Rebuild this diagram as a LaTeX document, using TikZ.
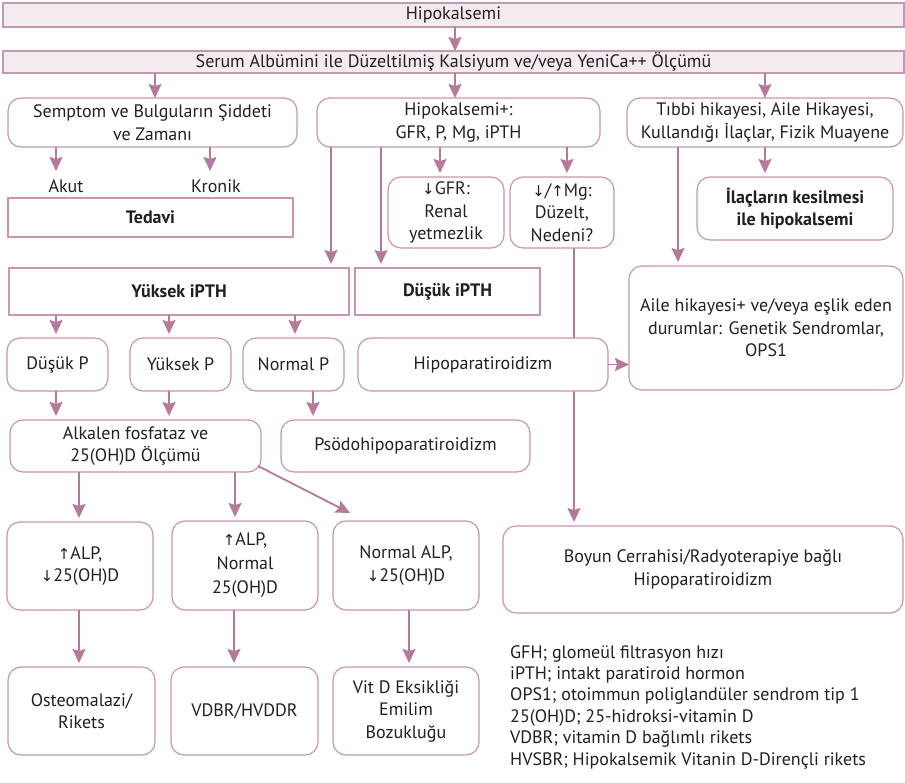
\documentclass[tikz,border=0pt]{standalone}
\usepackage{fontspec}
\setmainfont{PT Sans}
\newfontfamily\symfont{DejaVu Sans}
\usetikzlibrary{arrows.meta,backgrounds}
\definecolor{edgec}{HTML}{C796AF}
\definecolor{arrowc}{HTML}{B47A99}
\definecolor{barfill}{HTML}{F4EBEF}
\definecolor{ink}{HTML}{231F20}
\newcommand\arup{{\symfont\fontsize{15}{15}\selectfont ↑}}
\newcommand\ardn{{\symfont\fontsize{15}{15}\selectfont ↓}}
\newcommand\mainsize{\fontsize{18}{22.5}\selectfont}
\tikzset{
  x=1pt, y=-1pt,
  box/.style={draw=edgec, line width=1.2pt, fill=white, text=ink, align=center,
    inner sep=0pt, outer sep=0pt, font=\mainsize},
  rbox/.style={box, rounded corners=13pt},
  sbox/.style={box},
  boldbox/.style={font=\mainsize\bfseries},
  bar/.style={box, fill=barfill},
  lbl/.style={text=ink, inner sep=0pt, font=\mainsize},
  arr/.style={draw=arrowc, line width=1.8pt, -{Stealth[length=14pt,width=13pt,inset=2pt]}},
  gap/.style={shorten >=4pt},
}
\begin{document}
\begin{tikzpicture}
\useasboundingbox (0,0) rectangle (905,782);

% header bars
\node[bar, minimum width=901pt, minimum height=24pt] (hk) at (453.5,15) {Hipokalsemi};
\node[bar, minimum width=901pt, minimum height=22pt] (ca) at (453.5,62) {Serum Albümini ile Düzeltilmiş Kalsiyum ve/veya YeniCa++ Ölçümü};

% first level
\node[rbox, minimum width=289pt, minimum height=49pt] (semp) at (152.5,122.5) {Semptom ve Bulguların Şiddeti\\ve Zamanı};
\node[rbox, minimum width=283pt, minimum height=49pt] (hplus) at (458.5,122.5) {Hipokalsemi+:\\GFR, P, Mg, iPTH};
\node[rbox, minimum width=276pt, minimum height=49pt] (tibbi) at (765,122.5) {Tıbbi hikayesi, Aile Hikayesi,\\Kullandığı İlaçlar, Fizik Muayene};

\node[lbl] (akut) at (66,186) {Akut};
\node[lbl] (kronik) at (216,186) {Kronik};
\node[sbox, boldbox, minimum width=285pt, minimum height=39pt] (tedavi) at (150.5,217.5) {Tedavi};

\node[rbox, minimum width=116pt, minimum height=71pt] (gfr) at (446,212.5) {\ardn GFR:\\Renal\\yetmezlik};
\node[rbox, minimum width=104pt, minimum height=71pt] (mg) at (562,212.5) {\ardn/\arup Mg:\\Düzelt,\\Nedeni?};
\node[rbox, boldbox, minimum width=196pt, minimum height=63pt] (ilac) at (795,208.5) {İlaçların kesilmesi\\ile hipokalsemi};

% PTH level
\node[sbox, boldbox, minimum width=340pt, minimum height=47pt] (ypth) at (179,291.5) {Yüksek iPTH};
\node[sbox, boldbox, minimum width=185pt, minimum height=47pt] (dpth) at (447.5,291.5) {Düşük iPTH};
\node[rbox, minimum width=274pt, minimum height=124pt] (aile) at (766,328) {Aile hikayesi+ ve/veya eşlik eden\\durumlar: Genetik Sendromlar,\\OPS1};

\node[rbox, minimum width=101pt, minimum height=53pt] (dp) at (57.5,364.5) {Düşük P};
\node[rbox, minimum width=101pt, minimum height=53pt] (yp) at (180.5,364.5) {Yüksek P};
\node[rbox, minimum width=101pt, minimum height=53pt] (np) at (293.5,364.5) {Normal P};
\node[rbox, minimum width=250pt, minimum height=53pt] (hipo) at (483,364.5) {Hipoparatiroidizm};

\node[rbox, minimum width=251pt, minimum height=52pt] (alk) at (135.5,446) {Alkalen fosfataz ve\\25(OH)D Ölçümü};
\node[rbox, minimum width=249pt, minimum height=52pt] (pso) at (405.5,446) {Psödohipoparatiroidizm};

% ALP / vitamin D level
\node[rbox, minimum width=146pt, minimum height=88pt] (a1) at (80,566) {\arup ALP,\\\ardn 25(OH)D};
\node[rbox, minimum width=146pt, minimum height=89pt, font=\fontsize{18}{24}\selectfont] (a2) at (245,565.5) {\arup ALP,\\Normal\\25(OH)D};
\node[rbox, minimum width=146pt, minimum height=89pt] (a3) at (406,565.5) {Normal ALP,\\\ardn 25(OH)D};
\node[rbox, minimum width=400pt, minimum height=87pt] (boyun) at (703,569.5) {Boyun Cerrahisi/Radyoterapiye bağlı\\Hipoparatiroidizm};

\node[rbox, minimum width=147pt, minimum height=88pt] (b1) at (81.5,711) {Osteomalazi/\\Rikets};
\node[rbox, minimum width=147pt, minimum height=88pt] (b2) at (244.5,711) {VDBR/HVDDR};
\node[rbox, minimum width=146pt, minimum height=88pt] (b3) at (406,711) {Vit D Eksikliği\\Emilim\\Bozukluğu};

% abbreviations
\node[lbl, anchor=north west, align=left, font=\fontsize{18}{21.4}\selectfont] (legend) at (510,645) {GFH; glomeül filtrasyon hızı\\
iPTH; intakt paratiroid hormon\\
OPS1; otoimmun poliglandüler sendrom tip 1\\
25(OH)D; 25-hidroksi-vitamin D\\
VDBR; vitamin D bağlımlı rikets\\
HVSBR; Hipokalsemik Vitanin D-Dirençli rikets};

% connectors
\draw[arr] (hk.south -| 455,0) -- (ca.north -| 455,0);
\draw[arr] (ca.south -| 155,0) -- (semp.north -| 155,0);
\draw[arr] (ca.south -| 455,0) -- (hplus.north -| 455,0);
\draw[arr] (ca.south -| 765,0) -- (tibbi.north -| 765,0);

\draw[arr] (semp.south -| 56,0) -- ++(0,24);
\draw[arr] (semp.south -| 210,0) -- ++(0,24);

\draw[arr, gap] (hplus.south -| 331,0) -- (ypth.north -| 331,0);
\draw[arr, gap] (hplus.south -| 381,0) -- (dpth.north -| 381,0);
\draw[arr, gap] (hplus.south -| 440,0) -- (gfr.north -| 440,0);
\draw[arr, gap] (hplus.south -| 567,0) -- (mg.north -| 567,0);

\draw[arr, gap] (tibbi.south -| 678,0) -- (aile.north -| 678,0);
\draw[arr, gap] (tibbi.south -| 765,0) -- (ilac.north -| 765,0);

\begin{scope}[on background layer]
\draw[arr, gap] (mg.south -| 574,0) -- (boyun.north -| 574,0);
\end{scope}
\draw[arr] (hipo.east) -- (aile.west |- hipo.east);

\draw[arr, gap] (ypth.south -| 56,0) -- (dp.north -| 56,0);
\draw[arr, gap] (ypth.south -| 169,0) -- (yp.north -| 169,0);
\draw[arr, gap] (ypth.south -| 295,0) -- (np.north -| 295,0);

\draw[arr, gap] (dp.south -| 56,0) -- (alk.north -| 56,0);
\draw[arr, gap] (yp.south -| 169,0) -- (alk.north -| 169,0);
\draw[arr, gap] (np.south -| 313,0) -- (pso.north -| 313,0);

\draw[arr, gap] (alk.south -| 79,0) -- (a1.north -| 79,0);
\draw[arr, gap] (alk.south -| 235,0) -- (a2.north -| 235,0);
\draw[arr] (alk.south east) ++(-3,-6) -- (350,513);

\draw[arr, gap] (a1.south -| 79,0) -- (b1.north -| 79,0);
\draw[arr, gap] (a2.south -| 234,0) -- (b2.north -| 234,0);
\draw[arr, gap] (a3.south -| 409,0) -- (b3.north -| 409,0);
\end{tikzpicture}
\end{document}
